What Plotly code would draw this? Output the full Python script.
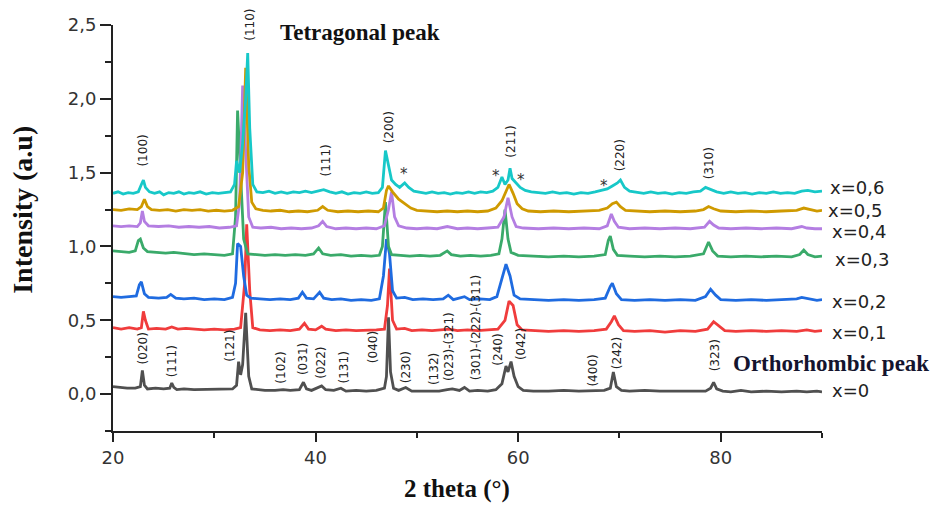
import plotly.graph_objects as go

# ---------------- data (2theta, intensity) ----------------
S_X0 = [(20.0, 0.05), (20.6, 0.045), (21.4, 0.04), (22.2, 0.04), (22.7, 0.05), (22.9, 0.16), (23.1, 0.06),
        (23.4, 0.035), (24.2, 0.04), (25.0, 0.035), (25.6, 0.04), (25.8, 0.075), (26.0, 0.045), (26.3, 0.03),
        (27.0, 0.035), (28.0, 0.03), (29.0, 0.03), (30.0, 0.03), (31.0, 0.03), (31.8, 0.035), (32.2, 0.06),
        (32.4, 0.22), (32.6, 0.13), (32.8, 0.2), (33.1, 0.55), (33.4, 0.12), (33.7, 0.035), (34.2, 0.03),
        (35.0, 0.025), (36.0, 0.025), (36.8, 0.03), (37.5, 0.025), (38.4, 0.03), (38.8, 0.08), (39.1, 0.035),
        (39.6, 0.025), (40.2, 0.04), (40.6, 0.055), (41.0, 0.03), (41.8, 0.025), (42.5, 0.04), (43.0, 0.02),
        (44.0, 0.025), (45.0, 0.02), (46.0, 0.025), (46.8, 0.04), (47.0, 0.12), (47.2, 0.52), (47.4, 0.15),
        (47.7, 0.04), (48.2, 0.025), (48.9, 0.045), (49.5, 0.02), (50.5, 0.02), (51.5, 0.025), (52.2, 0.02),
        (53.0, 0.03), (53.5, 0.035), (54.2, 0.025), (54.7, 0.045), (55.2, 0.02), (56.0, 0.025), (57.0, 0.02),
        (57.8, 0.03), (58.4, 0.07), (58.8, 0.19), (59.0, 0.15), (59.3, 0.22), (59.6, 0.12), (60.0, 0.05),
        (60.5, 0.025), (61.5, 0.02), (63.0, 0.02), (64.5, 0.025), (66.0, 0.02), (67.4, 0.02), (68.5, 0.025),
        (69.1, 0.04), (69.4, 0.15), (69.7, 0.05), (70.2, 0.025), (71.0, 0.02), (72.5, 0.025), (74.0, 0.02),
        (75.5, 0.02), (77.0, 0.025), (78.5, 0.02), (79.0, 0.04), (79.3, 0.08), (79.6, 0.035), (80.2, 0.02),
        (81.0, 0.015), (82.0, 0.025), (83.0, 0.015), (84.5, 0.02), (86.0, 0.015), (87.5, 0.02), (88.5, 0.015),
        (89.5, 0.02), (90.0, 0.015)]

S_X1 = [(20, 0.45), (20.8, 0.44), (21.6, 0.45), (22.4, 0.44), (22.8, 0.45), (23.0, 0.56), (23.2, 0.5), (23.5, 0.44),
        (24.3, 0.445), (25.2, 0.44), (25.8, 0.455), (26.4, 0.44), (27.2, 0.445), (28.0, 0.44), (29.0, 0.435),
        (30.0, 0.44), (31.0, 0.435), (32.0, 0.44), (32.6, 0.45), (33.0, 0.75), (33.2, 1.15), (33.5, 0.7),
        (33.8, 0.45), (34.5, 0.435), (35.5, 0.43), (36.5, 0.435), (37.5, 0.43), (38.4, 0.44), (38.9, 0.48),
        (39.3, 0.44), (40.0, 0.435), (40.6, 0.46), (41.0, 0.44), (42.0, 0.43), (43.0, 0.435), (44.0, 0.43),
        (45.0, 0.43), (46.0, 0.435), (46.8, 0.44), (47.1, 0.6), (47.3, 0.85), (47.6, 0.5), (48.0, 0.44),
        (48.8, 0.445), (49.5, 0.43), (50.5, 0.435), (51.5, 0.43), (52.5, 0.435), (53.2, 0.44), (54.0, 0.43),
        (55.0, 0.435), (56.0, 0.43), (57.0, 0.435), (58.0, 0.44), (58.7, 0.5), (59.1, 0.63), (59.5, 0.6),
        (59.9, 0.47), (60.4, 0.435), (61.5, 0.43), (63.0, 0.425), (64.5, 0.43), (66.0, 0.425), (67.5, 0.43),
        (68.7, 0.44), (69.2, 0.49), (69.5, 0.53), (69.9, 0.47), (70.4, 0.43), (71.5, 0.425), (73.0, 0.43),
        (74.5, 0.42), (76.0, 0.43), (77.5, 0.425), (78.7, 0.44), (79.3, 0.49), (79.8, 0.46), (80.4, 0.43),
        (81.5, 0.425), (83.0, 0.43), (84.5, 0.425), (86.0, 0.43), (87.5, 0.425), (88.5, 0.435), (89.3, 0.425),
        (90, 0.43)]

S_X2 = [(20, 0.66), (20.8, 0.655), (21.6, 0.66), (22.3, 0.665), (22.6, 0.74), (22.8, 0.76), (23.1, 0.68),
        (23.5, 0.655), (24.5, 0.65), (25.3, 0.655), (25.7, 0.675), (26.2, 0.65), (27.0, 0.645), (28.0, 0.65),
        (29.0, 0.64), (30.0, 0.645), (31.0, 0.64), (31.8, 0.655), (32.1, 0.75), (32.3, 1.02), (32.6, 1.0),
        (32.9, 0.8), (33.2, 0.67), (33.6, 0.65), (34.5, 0.645), (35.5, 0.64), (36.5, 0.645), (37.5, 0.64),
        (38.3, 0.65), (38.7, 0.69), (39.1, 0.65), (39.8, 0.645), (40.4, 0.69), (40.8, 0.65), (41.6, 0.64),
        (42.5, 0.645), (43.5, 0.635), (44.5, 0.64), (45.5, 0.635), (46.3, 0.645), (46.7, 0.8), (47.0, 1.05),
        (47.3, 0.95), (47.6, 0.7), (48.0, 0.65), (48.8, 0.655), (49.6, 0.64), (50.6, 0.645), (51.6, 0.64),
        (52.6, 0.645), (53.1, 0.67), (53.6, 0.64), (54.7, 0.66), (55.2, 0.64), (56.2, 0.645), (57.2, 0.64),
        (57.9, 0.66), (58.4, 0.78), (58.8, 0.88), (59.2, 0.8), (59.6, 0.67), (60.2, 0.645), (61.5, 0.64),
        (63.0, 0.635), (64.5, 0.64), (66.0, 0.635), (67.5, 0.64), (68.6, 0.65), (69.1, 0.73), (69.3, 0.75),
        (69.7, 0.68), (70.2, 0.64), (71.5, 0.635), (73.0, 0.64), (74.5, 0.635), (76.0, 0.64), (77.5, 0.635),
        (78.5, 0.66), (79.0, 0.71), (79.5, 0.67), (80.0, 0.64), (81.5, 0.635), (83.0, 0.64), (84.5, 0.635),
        (86.0, 0.64), (87.5, 0.645), (88.0, 0.655), (88.8, 0.645), (89.5, 0.635), (90, 0.64)]

S_X3 = [(20, 0.97), (20.8, 0.965), (21.6, 0.96), (22.2, 0.97), (22.5, 1.04), (22.7, 1.05), (23.0, 0.99),
        (23.4, 0.965), (24.3, 0.96), (25.2, 0.955), (26.0, 0.96), (27.0, 0.95), (28.0, 0.945), (29.0, 0.95),
        (30.0, 0.945), (31.0, 0.94), (31.8, 0.95), (32.1, 1.2), (32.3, 1.92), (32.6, 1.5), (32.9, 1.05),
        (33.3, 0.95), (34.0, 0.945), (35.0, 0.94), (36.0, 0.945), (37.0, 0.94), (38.0, 0.945), (39.0, 0.94),
        (39.8, 0.95), (40.3, 0.99), (40.7, 0.95), (41.5, 0.94), (42.5, 0.945), (43.5, 0.935), (44.5, 0.94),
        (45.5, 0.935), (46.3, 0.94), (46.6, 1.0), (46.9, 1.3), (47.2, 1.0), (47.5, 0.945), (48.3, 0.94),
        (49.3, 0.935), (50.3, 0.94), (51.3, 0.935), (52.3, 0.94), (53.0, 0.97), (53.4, 0.945), (54.3, 0.935),
        (55.3, 0.94), (56.3, 0.935), (57.3, 0.94), (58.1, 0.95), (58.4, 1.05), (58.7, 1.25), (59.0, 1.05),
        (59.3, 0.96), (60.0, 0.94), (61.5, 0.935), (63.0, 0.93), (64.5, 0.935), (66.0, 0.93), (67.5, 0.935),
        (68.6, 0.945), (68.9, 1.04), (69.1, 1.07), (69.4, 0.98), (69.8, 0.94), (71.0, 0.935), (72.5, 0.93),
        (74.0, 0.935), (75.5, 0.93), (77.0, 0.935), (78.3, 0.95), (78.8, 1.03), (79.2, 0.97), (79.7, 0.935),
        (81.0, 0.93), (82.5, 0.935), (84.0, 0.93), (85.5, 0.935), (87.0, 0.93), (87.8, 0.945), (88.2, 0.975),
        (88.6, 0.945), (89.3, 0.93), (90, 0.935)]

S_X4 = [(20, 1.14), (20.8, 1.135), (21.6, 1.14), (22.4, 1.135), (22.7, 1.16), (22.9, 1.24), (23.1, 1.17),
        (23.5, 1.14), (24.5, 1.135), (25.5, 1.14), (26.5, 1.13), (27.5, 1.135), (28.5, 1.13), (29.5, 1.135),
        (30.5, 1.125), (31.5, 1.13), (32.2, 1.14), (32.5, 1.3), (32.8, 2.09), (33.1, 1.6), (33.4, 1.2),
        (33.8, 1.13), (34.6, 1.125), (35.6, 1.13), (36.6, 1.12), (37.6, 1.125), (38.6, 1.12), (39.6, 1.125),
        (40.3, 1.14), (40.7, 1.17), (41.1, 1.135), (42.0, 1.12), (43.0, 1.125), (44.0, 1.12), (45.0, 1.125),
        (46.0, 1.12), (46.8, 1.14), (47.2, 1.25), (47.5, 1.37), (47.8, 1.2), (48.2, 1.14), (49.0, 1.125),
        (50.0, 1.12), (51.0, 1.125), (52.0, 1.12), (53.0, 1.135), (54.0, 1.12), (55.0, 1.125), (56.0, 1.12),
        (57.0, 1.125), (58.0, 1.13), (58.6, 1.2), (59.0, 1.33), (59.4, 1.2), (59.8, 1.135), (60.5, 1.125),
        (62.0, 1.12), (63.5, 1.125), (65.0, 1.12), (66.5, 1.125), (68.0, 1.12), (68.8, 1.14), (69.2, 1.22),
        (69.5, 1.17), (69.9, 1.13), (71.0, 1.12), (72.5, 1.125), (74.0, 1.12), (75.5, 1.125), (77.0, 1.12),
        (78.4, 1.13), (78.9, 1.17), (79.3, 1.145), (79.8, 1.125), (81.0, 1.12), (82.5, 1.125), (84.0, 1.12),
        (85.5, 1.125), (87.0, 1.12), (88.0, 1.135), (88.5, 1.125), (89.3, 1.12), (90, 1.12)]

S_X5 = [(20, 1.25), (20.8, 1.245), (21.6, 1.255), (22.4, 1.25), (22.8, 1.27), (23.1, 1.32), (23.4, 1.27),
        (23.8, 1.25), (24.6, 1.245), (25.4, 1.25), (26.2, 1.24), (27.0, 1.25), (27.8, 1.245), (28.6, 1.25),
        (29.4, 1.24), (30.2, 1.245), (31.0, 1.24), (31.8, 1.245), (32.4, 1.27), (32.8, 1.5), (33.1, 2.21),
        (33.4, 1.55), (33.7, 1.3), (34.1, 1.255), (34.8, 1.245), (35.6, 1.24), (36.5, 1.245), (37.4, 1.235),
        (38.3, 1.24), (39.2, 1.235), (40.2, 1.245), (40.7, 1.27), (41.2, 1.245), (42.2, 1.235), (43.2, 1.24),
        (44.2, 1.235), (45.2, 1.24), (46.2, 1.235), (46.7, 1.26), (47.0, 1.38), (47.2, 1.41), (47.6, 1.37),
        (48.2, 1.32), (48.8, 1.29), (49.4, 1.26), (50.0, 1.245), (51.0, 1.24), (52.0, 1.235), (53.0, 1.24),
        (54.0, 1.235), (55.0, 1.24), (56.0, 1.235), (57.0, 1.24), (57.8, 1.26), (58.4, 1.31), (58.8, 1.38),
        (59.1, 1.42), (59.5, 1.36), (59.9, 1.29), (60.4, 1.255), (61.0, 1.24), (62.2, 1.235), (63.5, 1.24),
        (65.0, 1.235), (66.5, 1.24), (68.0, 1.245), (68.8, 1.26), (69.3, 1.29), (69.7, 1.3), (70.1, 1.27),
        (70.6, 1.245), (71.5, 1.24), (73.0, 1.235), (74.5, 1.24), (76.0, 1.235), (77.5, 1.24), (78.3, 1.25),
        (78.8, 1.27), (79.3, 1.255), (80.0, 1.24), (81.5, 1.235), (83.0, 1.24), (84.5, 1.235), (86.0, 1.24),
        (87.5, 1.245), (88.2, 1.26), (88.8, 1.25), (89.5, 1.24), (90, 1.245)]

S_X6 = [(20, 1.36), (20.5, 1.37), (21.0, 1.355), (21.5, 1.365), (22.0, 1.36), (22.5, 1.37), (22.8, 1.42),
        (23.0, 1.45), (23.2, 1.4), (23.6, 1.37), (24.1, 1.36), (24.6, 1.37), (25.0, 1.35), (25.5, 1.365),
        (26.0, 1.36), (26.5, 1.37), (27.0, 1.355), (27.5, 1.365), (28.0, 1.36), (28.6, 1.37), (29.2, 1.355),
        (29.8, 1.365), (30.4, 1.36), (31.0, 1.365), (31.6, 1.37), (32.0, 1.42), (32.2, 1.58), (32.5, 1.5),
        (32.8, 1.7), (33.1, 2.0), (33.3, 2.31), (33.5, 1.8), (33.8, 1.42), (34.2, 1.37), (34.8, 1.365),
        (35.4, 1.375), (36.0, 1.36), (36.6, 1.37), (37.2, 1.36), (37.8, 1.37), (38.4, 1.365), (39.0, 1.375),
        (39.6, 1.365), (40.2, 1.375), (40.8, 1.385), (41.4, 1.37), (42.0, 1.36), (42.6, 1.37), (43.2, 1.355),
        (43.8, 1.365), (44.4, 1.36), (45.0, 1.37), (45.6, 1.36), (46.2, 1.365), (46.6, 1.4), (46.9, 1.65),
        (47.2, 1.55), (47.5, 1.45), (47.9, 1.42), (48.3, 1.4), (48.8, 1.43), (49.2, 1.4), (49.7, 1.375),
        (50.3, 1.365), (50.9, 1.36), (51.5, 1.37), (52.1, 1.36), (52.7, 1.365), (53.3, 1.355), (53.9, 1.365),
        (54.5, 1.36), (55.1, 1.37), (55.7, 1.36), (56.3, 1.37), (56.9, 1.365), (57.5, 1.375), (58.0, 1.4),
        (58.4, 1.47), (58.7, 1.42), (59.0, 1.45), (59.2, 1.53), (59.4, 1.46), (59.8, 1.43), (60.2, 1.4),
        (60.7, 1.38), (61.3, 1.37), (62.0, 1.365), (62.7, 1.36), (63.4, 1.37), (64.1, 1.36), (64.8, 1.365),
        (65.5, 1.355), (66.2, 1.365), (66.9, 1.36), (67.6, 1.37), (68.3, 1.38), (68.8, 1.39), (69.3, 1.41),
        (69.8, 1.43), (70.1, 1.45), (70.5, 1.4), (71.0, 1.375), (71.7, 1.365), (72.4, 1.36), (73.1, 1.37),
        (73.8, 1.36), (74.5, 1.365), (75.2, 1.355), (75.9, 1.365), (76.6, 1.36), (77.3, 1.37), (78.0, 1.375),
        (78.5, 1.4), (79.0, 1.385), (79.6, 1.37), (80.3, 1.36), (81.0, 1.37), (81.7, 1.36), (82.4, 1.365),
        (83.1, 1.355), (83.8, 1.365), (84.5, 1.36), (85.2, 1.37), (85.9, 1.36), (86.6, 1.365), (87.3, 1.36),
        (88.0, 1.375), (88.6, 1.38), (89.3, 1.37), (90, 1.375)]

SERIES = [S_X0, S_X1, S_X2, S_X3, S_X4, S_X5, S_X6]
SERIES_NAMES = ["x=0", "x=0,1", "x=0,2", "x=0,3", "x=0,4", "x=0,5", "x=0,6"]
SERIES_COLORS = ["#505050", "#f03c3c", "#1f6be0", "#3aaa6a", "#b47ee2", "#cf9a00", "#17c8c8"]
# label anchor (x, y) in data units for the series names at the right
SERIES_LABEL_POS = [(90.8, 0.027), (90.8, 0.42), (90.8, 0.626), (91.1, 0.91), (90.8, 1.10), (90.4, 1.245), (90.6, 1.40)]

TETRA_LABELS = ["(100)", "(110)", "(111)", "(200)", "(211)", "(220)", "(310)"]
TETRA_POS = [(22.97, 1.65), (33.5, 2.5), (41.0, 1.58), (47.2, 1.81), (59.3, 1.71), (70.0, 1.62), (78.8, 1.56)]

ORTHO_LABELS = ["(020)", "(111)", "(121)", "(102)", "(031)", "(022)", "(131)", "(040)", "(230)", "(132)",
                "(023)-(321)", "(301)-(222)-(311)", "(240)", "(042)", "(400)", "(242)", "(323)"]
ORTHO_POS = [(22.97, 0.31), (25.8, 0.22), (31.6, 0.33), (36.5, 0.18), (38.7, 0.24), (40.5, 0.21), (42.8, 0.18),
             (45.7, 0.32), (48.9, 0.18), (51.7, 0.17), (53.2, 0.32), (55.8, 0.45), (58.0, 0.30), (60.3, 0.34),
             (67.4, 0.16), (69.7, 0.28), (79.4, 0.26)]

STAR_POS = [(48.7, 1.49), (57.8, 1.48), (60.3, 1.45), (68.5, 1.41)]

X_RANGE = [20, 90]
Y_RANGE = [-0.25, 2.5]


def px(x):  # data x -> paper x
    return (x - X_RANGE[0]) / (X_RANGE[1] - X_RANGE[0])


def py(y):  # data y -> paper y
    return (y - Y_RANGE[0]) / (Y_RANGE[1] - Y_RANGE[0])


fig = go.Figure()
for pts, name, col in zip(SERIES, SERIES_NAMES, SERIES_COLORS):
    fig.add_trace(go.Scatter(x=[p[0] for p in pts], y=[p[1] for p in pts], mode="lines", name=name,
                             line=dict(color=col, width=2.8), showlegend=False))

ann = []
for (x, y), name in zip(SERIES_LABEL_POS, SERIES_NAMES):
    ann.append(dict(x=px(x), y=py(y), xref="paper", yref="paper", text=name, showarrow=False,
                    xanchor="left", yanchor="middle",
                    font=dict(family="DejaVu Sans", size=18, color="#222222")))
for (x, y), t in zip(TETRA_POS + ORTHO_POS, TETRA_LABELS + ORTHO_LABELS):
    ann.append(dict(x=px(x), y=py(y), xref="paper", yref="paper", text=t, showarrow=False, textangle=-90,
                    xanchor="center", yanchor="middle",
                    font=dict(family="DejaVu Sans", size=12, color="#222222")))
for (x, y) in STAR_POS:
    ann.append(dict(x=px(x), y=py(y), xref="paper", yref="paper", text="*", showarrow=False,
                    xanchor="center", yanchor="middle",
                    font=dict(family="DejaVu Sans", size=15, color="#333333")))

ann.append(dict(x=px(36.3), y=py(2.45), xref="paper", yref="paper", text="<b>Tetragonal peak</b>",
                showarrow=False, xanchor="left", yanchor="middle",
                font=dict(family="Liberation Serif", size=23, color="#111111")))
ann.append(dict(x=px(81.0), y=py(0.204), xref="paper", yref="paper", text="<b>Orthorhombic peak</b>",
                showarrow=False, xanchor="left", yanchor="middle",
                font=dict(family="Liberation Serif", size=23, color="#14142e")))
ann.append(dict(x=-0.128, y=py(1.25), xref="paper", yref="paper", text="<b>Intensity (a.u)</b>",
                showarrow=False, textangle=-90, xanchor="center", yanchor="middle",
                font=dict(family="Liberation Serif", size=28, color="#111111")))
ann.append(dict(x=px(53.96), y=py(-0.646), xref="paper", yref="paper", text="<b>2 theta (°)</b>",
                showarrow=False, xanchor="center", yanchor="middle",
                font=dict(family="Liberation Serif", size=25, color="#111111")))

axis_common = dict(showline=True, linecolor="#222222", linewidth=2, ticks="outside", tickwidth=2,
                   tickcolor="#222222", showgrid=False, zeroline=False,
                   tickfont=dict(family="DejaVu Sans", size=18, color="#333333"))

fig.update_layout(
    width=939, height=509, margin=dict(l=113, r=117, t=25, b=78),
    paper_bgcolor="white", plot_bgcolor="white", separators=",.",
    xaxis=dict(range=X_RANGE, tick0=0, dtick=20, ticklen=9,
               minor=dict(tick0=0, dtick=10, ticks="outside", ticklen=5, tickwidth=2, tickcolor="#222222"),
               **axis_common),
    yaxis=dict(range=Y_RANGE, tick0=0, dtick=0.5, tickformat=".1f", ticklen=11,
               minor=dict(tick0=0, dtick=0.25, ticks="outside", ticklen=6, tickwidth=2, tickcolor="#222222"),
               **axis_common),
    annotations=ann,
)

fig.write_html("out.html")
